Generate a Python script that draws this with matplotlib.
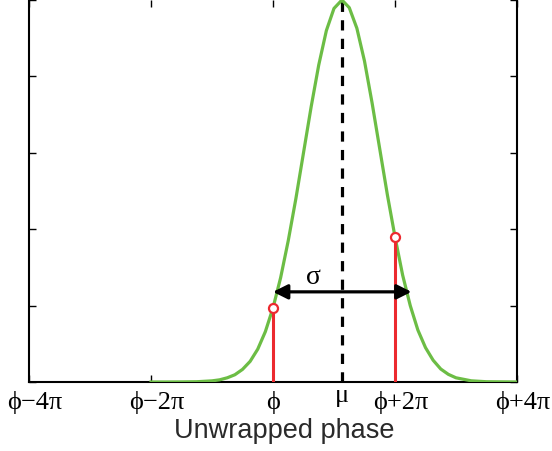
import numpy as np
import matplotlib.pyplot as plt
import matplotlib.transforms as mtransforms

# positions in units of pi, relative to phi
x_curve = [-2.0, -1.75, -1.5, -1.25, -1.0, -0.875, -0.75, -0.625, -0.5, -0.375, -0.25,
           -0.125, 0.0, 0.125, 0.25, 0.375, 0.5, 0.625, 0.75, 0.875, 1.0, 1.13,
           1.25, 1.375, 1.5, 1.625, 1.75, 1.875, 2.0, 2.125, 2.25, 2.375, 2.5, 2.625,
           2.75, 2.875, 3.0, 3.25, 3.5, 4.0]
y_curve = [0.0, 0.0, 0.0002, 0.0007, 0.003, 0.0057, 0.011, 0.019, 0.033, 0.054, 0.086,
           0.132, 0.194, 0.273, 0.37, 0.48, 0.60, 0.72, 0.83, 0.92, 0.978, 1.0,
           0.98, 0.926, 0.84, 0.73, 0.61, 0.49, 0.38, 0.28, 0.20, 0.136, 0.09, 0.057,
           0.034, 0.020, 0.011, 0.0031, 0.0007, 0.0]
mu = 1.13
red_x = [0.0, 2.0]
red_y = [0.194, 0.38]
arrow_span = [0.0, 2.27]
arrow_y = 0.236
tick_pos = [-4, -2, 0, mu, 2, 4]
tick_labels = ['ϕ−4π', 'ϕ−2π', 'ϕ', 'μ', 'ϕ+2π', 'ϕ+4π']

green = '#6cbd45'
red = '#ec2a2f'

fig = plt.figure(figsize=(5.52, 4.51), dpi=100)
ax = fig.add_axes([29/552, 69/451, 488/552, 382/451])

ax.plot(x_curve, y_curve, color=green, lw=2.3, zorder=3)
ax.plot([mu, mu], [0, 1], color='black', lw=2.3, dashes=(3.2, 2.6), zorder=2)
for xv, yv in zip(red_x, red_y):
    ax.plot([xv, xv], [0, yv], color=red, lw=2.2, zorder=4)
    ax.plot(xv, yv, 'o', ms=6.5, mfc='white', mec=red, mew=1.6, zorder=5)

ax.annotate('', xy=(arrow_span[0], arrow_y), xytext=(arrow_span[1], arrow_y),
            arrowprops=dict(arrowstyle='<|-|>', color='black', lw=2.3,
                            mutation_scale=22, shrinkA=0, shrinkB=0), zorder=6)
ax.text(0.66, 0.24, 'σ', fontsize=20, family='Liberation Serif',
        ha='center', va='bottom')

ax.set_xlim(-4, 4)
ax.set_ylim(0, 1)
ax.set_xticks(tick_pos)
ax.set_xticklabels([])
# tick labels drawn as text so they can be nudged like in the original
for pos, lab in zip(tick_pos, tick_labels):
    dx = 6 if len(lab) > 1 else 0
    dy = -9 if lab != 'μ' else -3
    off = mtransforms.ScaledTranslation(dx/100, dy/100, fig.dpi_scale_trans)
    ax.text(pos, 0, lab, transform=ax.get_xaxis_transform() + off,
            family=['Liberation Serif', 'DejaVu Serif'], fontsize=19,
            ha='center', va='top', clip_on=False)
ax.set_yticks(np.arange(0, 1.01, 0.2))
ax.set_yticklabels([])
ax.tick_params(direction='in', length=5, width=1, top=True, right=True)
ax.spines['top'].set_visible(False)
for s in ['left', 'right', 'bottom']:
    ax.spines[s].set_linewidth(1.5)
ax.set_xlabel('Unwrapped phase', fontsize=19.5, family='Liberation Sans',
              color='#2a2a2a')
ax.xaxis.set_label_coords((284 - 29) / 488, -36 / 382)
ax.xaxis.label.set_va('top')

fig.savefig('out.png', dpi=100)
